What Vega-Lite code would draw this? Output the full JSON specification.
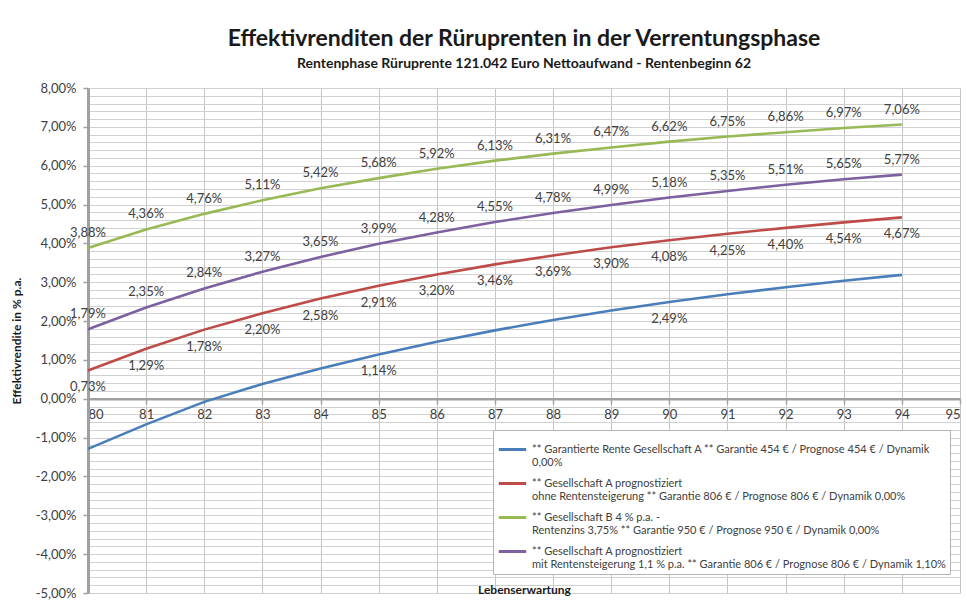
{
  "$schema": "https://vega.github.io/schema/vega-lite/v6.json",
  "width": 872,
  "height": 505,
  "autosize": {"type": "none"},
  "padding": {"left": 88, "top": 88, "right": 7, "bottom": 10},
  "title": {
    "text": "Effektivrenditen der Rüruprenten in der Verrentungsphase",
    "subtitle": "Rentenphase Rüruprente 121.042 Euro  Nettoaufwand -  Rentenbeginn 62",
    "anchor": "middle",
    "font": "Lato",
    "fontSize": 23,
    "fontWeight": "bold",
    "color": "#1a1a1a",
    "subtitleFont": "Lato",
    "subtitleFontSize": 14,
    "subtitleFontWeight": "bold",
    "subtitleColor": "#1a1a1a",
    "subtitlePadding": 6,
    "offset": 11
  },
  "config": {
    "locale": {"number": {"decimal": ",", "thousands": ".", "grouping": [3], "currency": ["", " €"], "minus": "-"}},
    "view": {"stroke": null},
    "font": "Lato"
  },
  "data": {"values": [
    {"x": 80, "s": "garantiert", "v": -0.0129}, {"x": 81, "s": "garantiert", "v": -0.0066}, {"x": 82, "s": "garantiert", "v": -0.0008},
    {"x": 83, "s": "garantiert", "v": 0.0038}, {"x": 84, "s": "garantiert", "v": 0.0078}, {"x": 85, "s": "garantiert", "v": 0.0114},
    {"x": 86, "s": "garantiert", "v": 0.0147}, {"x": 87, "s": "garantiert", "v": 0.0176}, {"x": 88, "s": "garantiert", "v": 0.0203},
    {"x": 89, "s": "garantiert", "v": 0.0227}, {"x": 90, "s": "garantiert", "v": 0.0249}, {"x": 91, "s": "garantiert", "v": 0.0269},
    {"x": 92, "s": "garantiert", "v": 0.0287}, {"x": 93, "s": "garantiert", "v": 0.0304}, {"x": 94, "s": "garantiert", "v": 0.0319},
    {"x": 80, "s": "ohne", "v": 0.0073}, {"x": 81, "s": "ohne", "v": 0.0129}, {"x": 82, "s": "ohne", "v": 0.0178},
    {"x": 83, "s": "ohne", "v": 0.0220}, {"x": 84, "s": "ohne", "v": 0.0258}, {"x": 85, "s": "ohne", "v": 0.0291},
    {"x": 86, "s": "ohne", "v": 0.0320}, {"x": 87, "s": "ohne", "v": 0.0346}, {"x": 88, "s": "ohne", "v": 0.0369},
    {"x": 89, "s": "ohne", "v": 0.0390}, {"x": 90, "s": "ohne", "v": 0.0408}, {"x": 91, "s": "ohne", "v": 0.0425},
    {"x": 92, "s": "ohne", "v": 0.0440}, {"x": 93, "s": "ohne", "v": 0.0454}, {"x": 94, "s": "ohne", "v": 0.0467},
    {"x": 80, "s": "B", "v": 0.0388}, {"x": 81, "s": "B", "v": 0.0436}, {"x": 82, "s": "B", "v": 0.0476},
    {"x": 83, "s": "B", "v": 0.0511}, {"x": 84, "s": "B", "v": 0.0542}, {"x": 85, "s": "B", "v": 0.0568},
    {"x": 86, "s": "B", "v": 0.0592}, {"x": 87, "s": "B", "v": 0.0613}, {"x": 88, "s": "B", "v": 0.0631},
    {"x": 89, "s": "B", "v": 0.0647}, {"x": 90, "s": "B", "v": 0.0662}, {"x": 91, "s": "B", "v": 0.0675},
    {"x": 92, "s": "B", "v": 0.0686}, {"x": 93, "s": "B", "v": 0.0697}, {"x": 94, "s": "B", "v": 0.0706},
    {"x": 80, "s": "mit", "v": 0.0179}, {"x": 81, "s": "mit", "v": 0.0235}, {"x": 82, "s": "mit", "v": 0.0284},
    {"x": 83, "s": "mit", "v": 0.0327}, {"x": 84, "s": "mit", "v": 0.0365}, {"x": 85, "s": "mit", "v": 0.0399},
    {"x": 86, "s": "mit", "v": 0.0428}, {"x": 87, "s": "mit", "v": 0.0455}, {"x": 88, "s": "mit", "v": 0.0478},
    {"x": 89, "s": "mit", "v": 0.0499}, {"x": 90, "s": "mit", "v": 0.0518}, {"x": 91, "s": "mit", "v": 0.0535},
    {"x": 92, "s": "mit", "v": 0.0551}, {"x": 93, "s": "mit", "v": 0.0565}, {"x": 94, "s": "mit", "v": 0.0577}
  ]},
  "encoding": {
    "x": {
      "field": "x", "type": "quantitative",
      "scale": {"domain": [80, 95], "nice": false, "zero": false},
      "axis": {
        "values": [80, 81, 82, 83, 84, 85, 86, 87, 88, 89, 90, 91, 92, 93, 94, 95],
        "offset": -194.23,
        "grid": true, "gridColor": "#c4c4c4", "gridWidth": 1,
        "domainColor": "#a0a0a0", "domainWidth": 2.5,
        "tickColor": "#a0a0a0", "tickSize": 5, "tickWidth": 1.5,
        "labelFontSize": 13, "labelColor": "#404040", "labelPadding": 5, "labelFont": "Lato",
        "title": "Lebenserwartung", "titleFontSize": 12, "titleFontWeight": "bold", "titleColor": "#1a1a1a",
        "titleY": 186, "titleFont": "Lato"
      }
    },
    "y": {
      "field": "v", "type": "quantitative",
      "scale": {"domain": [-0.05, 0.08], "nice": false, "zero": false},
      "axis": {
        "values": [-0.05,-0.048,-0.046,-0.044,-0.042,-0.04,-0.038,-0.036,-0.034,-0.032,-0.03,-0.028,-0.026,-0.024,-0.022,-0.02,-0.018,-0.016,-0.014,-0.012,-0.01,-0.008,-0.006,-0.004,-0.002,0,0.002,0.004,0.006,0.008,0.01,0.012,0.014,0.016,0.018,0.02,0.022,0.024,0.026,0.028,0.03,0.032,0.034,0.036,0.038,0.04,0.042,0.044,0.046,0.048,0.05,0.052,0.054,0.056,0.058,0.06,0.062,0.064,0.066,0.068,0.07,0.072,0.074,0.076,0.078,0.08],
        "format": ".2%",
        "labelExpr": "abs(datum.value * 100 - round(datum.value * 100)) < 0.01 ? datum.label : ''",
        "grid": true, "gridColor": "#d0d0d0", "gridWidth": 1,
        "domainColor": "#a0a0a0", "domainWidth": 3,
        "tickColor": {"condition": {"test": "abs(datum.value * 100 - round(datum.value * 100)) < 0.01", "value": "#a0a0a0"}, "value": "transparent"},
        "tickSize": 5, "tickWidth": 1.5,
        "labelFontSize": 13, "labelColor": "#404040", "labelPadding": 7, "labelFont": "Lato",
        "title": "Effektivrendite in % p.a.", "titleFontSize": 12, "titleFontWeight": "bold", "titleColor": "#1a1a1a",
        "titlePadding": 12, "titleFont": "Lato"
      }
    }
  },
  "layer": [
    {
      "mark": {"type": "line", "strokeWidth": 2.6},
      "encoding": {
        "color": {
          "field": "s", "type": "nominal",
          "scale": {"domain": ["garantiert", "ohne", "B", "mit"], "range": ["#4A7EBB", "#BE4B48", "#98B954", "#7D60A0"]},
          "legend": {
            "orient": "none", "legendX": 405, "legendY": 342,
            "title": null,
            "fillColor": "white", "strokeColor": "#b5b5b5", "padding": 4,
            "symbolType": "stroke", "symbolStrokeWidth": 3, "symbolSize": 750,
            "labelFontSize": 11, "labelColor": "#404040", "labelFont": "Lato", "labelLimit": 600,
            "rowPadding": 0,
            "labelExpr": "datum.value == 'garantiert' ? ['** Garantierte Rente Gesellschaft A ** Garantie 454 € / Prognose 454 € / Dynamik', '0,00%'] : datum.value == 'ohne' ? ['** Gesellschaft A prognostiziert', 'ohne Rentensteigerung ** Garantie 806 € / Prognose 806 € / Dynamik 0,00%'] : datum.value == 'B' ? ['** Gesellschaft B 4 % p.a.  -', 'Rentenzins 3,75%  ** Garantie 950 € / Prognose 950 € / Dynamik 0,00%'] : ['** Gesellschaft A prognostiziert', 'mit Rentensteigerung 1,1 % p.a. ** Garantie 806 € / Prognose 806 € / Dynamik 1,10%']"
          }
        }
      }
    },
    {
      "transform": [{"filter": "datum.s == 'B' || datum.s == 'mit'"}],
      "mark": {"type": "text", "dy": -15, "fontSize": 13, "color": "#404040", "font": "Lato"},
      "encoding": {"text": {"field": "v", "type": "quantitative", "format": ".2%"}}
    },
    {
      "transform": [{"filter": "datum.s == 'ohne' || (datum.s == 'garantiert' && (datum.x == 85 || datum.x == 90))"}],
      "mark": {"type": "text", "dy": 17, "fontSize": 13, "color": "#404040", "font": "Lato"},
      "encoding": {"text": {"field": "v", "type": "quantitative", "format": ".2%"}}
    }
  ]
}
